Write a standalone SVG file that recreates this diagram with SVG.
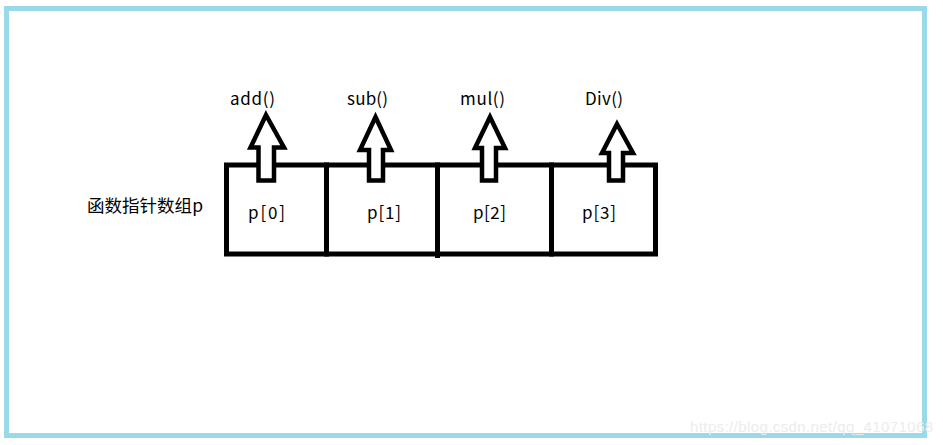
<svg xmlns="http://www.w3.org/2000/svg" width="943" height="445" viewBox="0 0 943 445">
<style>
.lbl{font-family:"Noto Sans CJK SC","Noto Sans",sans-serif;font-size:17px;fill:#000}
.cell{fill:#fff;stroke:#000;stroke-width:5}
.arr{fill:#fff;stroke:#000;stroke-width:4.5;stroke-linejoin:miter}
.wm{font-family:"Liberation Sans",Arial,sans-serif;font-size:15px;fill:#ececec}
</style>
<rect x="0" y="0" width="943" height="445" fill="#fff"/>
<rect id="frame" x="6.5" y="8.5" width="918" height="427" fill="none" stroke="#99d9ea" stroke-width="5"/>
<g id="array">
<rect class="cell" x="226.5" y="165" width="100" height="89"/>
<rect class="cell" x="326.5" y="165" width="111" height="89"/>
<rect class="cell" x="437.5" y="165" width="114" height="89"/>
<rect class="cell" x="551.5" y="165" width="104" height="89"/>
<line x1="437.5" y1="254" x2="437.5" y2="258" stroke="#000" stroke-width="5"/>
</g>
<text class="lbl" x="87" y="212" textLength="116" lengthAdjust="spacingAndGlyphs">函数指针数组p</text>
<g id="cell0"><text class="lbl" x="248" y="219" textLength="37">p[0]</text></g>
<g id="cell1"><text class="lbl" x="367" y="219" textLength="34">p[1]</text></g>
<g id="cell2"><text class="lbl" x="473" y="219" textLength="33">p[2]</text></g>
<g id="cell3"><text class="lbl" x="582" y="219" textLength="34">p[3]</text></g>
<g id="connectors">
<polygon class="arr" points="266,115 284,147.5 274,147.5 274,180.5 258.5,180.5 258.5,147.5 250.5,147.5"/>
<polygon class="arr" points="375.5,117 391,150 383,150 383,180.5 369,180.5 369,150 360,150"/>
<polygon class="arr" points="490,117 505,148 496,148 496,180.5 482,180.5 482,148 475,148"/>
<polygon class="arr" points="617,124 633,153 623,153 623,180.5 609,180.5 609,153 602,153"/>
</g>
<g id="add"><text class="lbl" x="230" y="105" textLength="45">add()</text></g>
<g id="sub"><text class="lbl" x="347" y="105" textLength="41">sub()</text></g>
<g id="mul"><text class="lbl" x="460" y="105" textLength="45">mul()</text></g>
<g id="div"><text class="lbl" x="585" y="105" textLength="38">Div()</text></g>
<text class="wm" x="690" y="432" textLength="243">https://blog.csdn.net/qq_41071068</text>
</svg>
